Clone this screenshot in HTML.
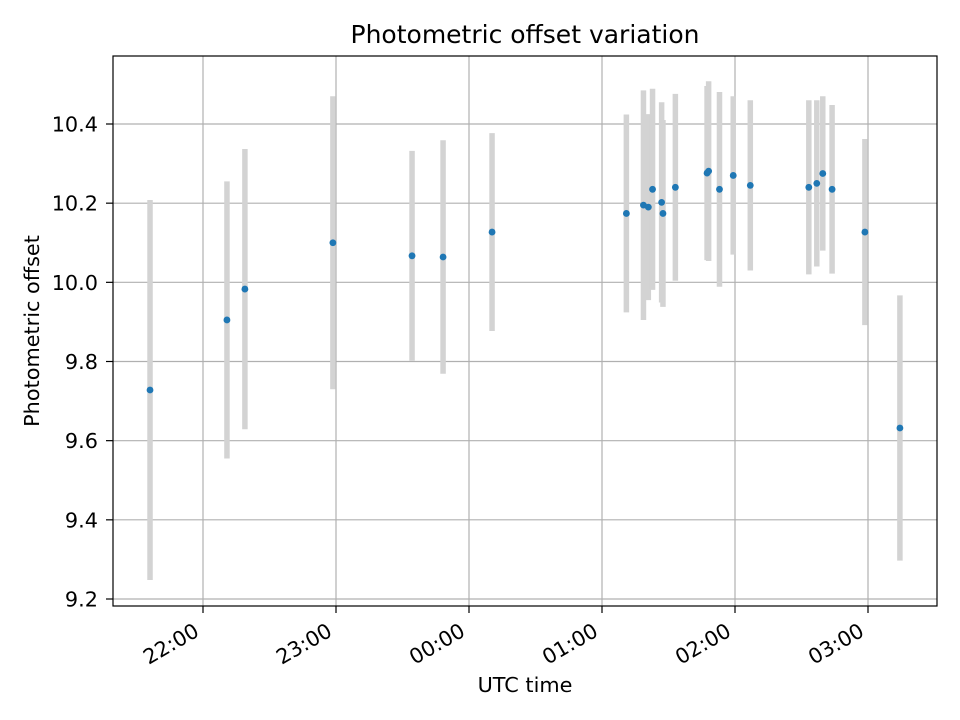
<!DOCTYPE html>
<html><head><meta charset="utf-8"><style>
body{margin:0;background:#fff;}
svg{display:block;font-family:"DejaVu Sans","Liberation Sans",sans-serif;}
</style></head><body>
<svg id="chart" width="960" height="720">
<rect x="0" y="0" width="960" height="720" fill="#fff"/>
<g id="grid"></g><g id="errs"></g><g id="pts"></g><g id="axes"></g>
<text x="525" y="43" text-anchor="middle" font-size="25">Photometric offset variation</text>
<text x="525" y="692" text-anchor="middle" font-size="20.8">UTC time</text>
<text transform="translate(39,331) rotate(-90)" text-anchor="middle" font-size="20.8">Photometric offset</text>
</svg>
<script>
// minutes after 21:00 UTC
const times=[36.1,70.8,78.9,118.6,154.3,168.3,190.4,251,258.7,260.9,262.8,266.9,267.5,273.1,287.4,288.1,293,299.2,306.9,333.3,336.9,339.6,343.8,358.6,374.4];
const offsets=[9.728,9.905,9.983,10.10,10.067,10.064,10.127,10.174,10.195,10.19,10.235,10.202,10.174,10.24,10.276,10.281,10.235,10.27,10.245,10.24,10.25,10.275,10.235,10.127,9.632];
const errors=[0.48,0.35,0.354,0.37,0.265,0.295,0.25,0.25,0.29,0.235,0.254,0.253,0.236,0.236,0.22,0.227,0.246,0.2,0.215,0.22,0.21,0.195,0.213,0.235,0.335];
const xTickMinutes=[60,120,180,240,300,360];
const xTickLabels=["22:00","23:00","00:00","01:00","02:00","03:00"];
const yTicks=[9.2,9.4,9.6,9.8,10.0,10.2,10.4];
const yTickLabels=["9.2","9.4","9.6","9.8","10.0","10.2","10.4"];

const L=113,R=937,T=56,B=606;
function xs(m){return 70+m*133/60;}
function ys(v){return 599-(v-9.2)*475/1.2;}
const NS="http://www.w3.org/2000/svg";
function mk(tag,attrs,parent){const e=document.createElementNS(NS,tag);for(const k in attrs)e.setAttribute(k,attrs[k]);parent.appendChild(e);return e;}
const grid=document.getElementById('grid'),errs=document.getElementById('errs'),pts=document.getElementById('pts'),axes=document.getElementById('axes');
xTickMinutes.forEach((m,i)=>{
  const x=xs(m);
  const g=mk('line',{x1:x,x2:x,y1:T,y2:B,stroke:'#b0b0b0','stroke-width':1.2},grid);
  
  
  mk('line',{x1:x,x2:x,y1:B,y2:B+7,stroke:'#000','stroke-width':1.2},axes);
  const t=mk('text',{transform:`translate(${x-2.5},${635}) rotate(-30)`,'text-anchor':'end','font-size':'20.8'},axes);
  t.textContent=xTickLabels[i];
  
  
});
yTicks.forEach((v,i)=>{
  const y=ys(v);
  const g=mk('line',{x1:L,x2:R,y1:y,y2:y,stroke:'#b0b0b0','stroke-width':1.2},grid);
  
  
  mk('line',{x1:L-7,x2:L,y1:y,y2:y,stroke:'#000','stroke-width':1.2},axes);
  const t=mk('text',{x:L-15,y:y+7.5,'text-anchor':'end','font-size':'20.8'},axes);
  t.textContent=yTickLabels[i];
  
  
});
const frame=mk('rect',{x:L,y:T,width:R-L,height:B-T,fill:'none',stroke:'#000','stroke-width':1.2},axes);


times.forEach((m,i)=>{
  const x=xs(m);
  const e=mk('line',{x1:x,x2:x,y1:ys(offsets[i]+errors[i]),y2:ys(offsets[i]-errors[i]),stroke:'#d3d3d3','stroke-width':5.5},errs);
  
  
  const c=mk('circle',{cx:x,cy:ys(offsets[i]),r:3.4,fill:'#1f77b4'},pts);
  
  
});
</script>
</body></html>
